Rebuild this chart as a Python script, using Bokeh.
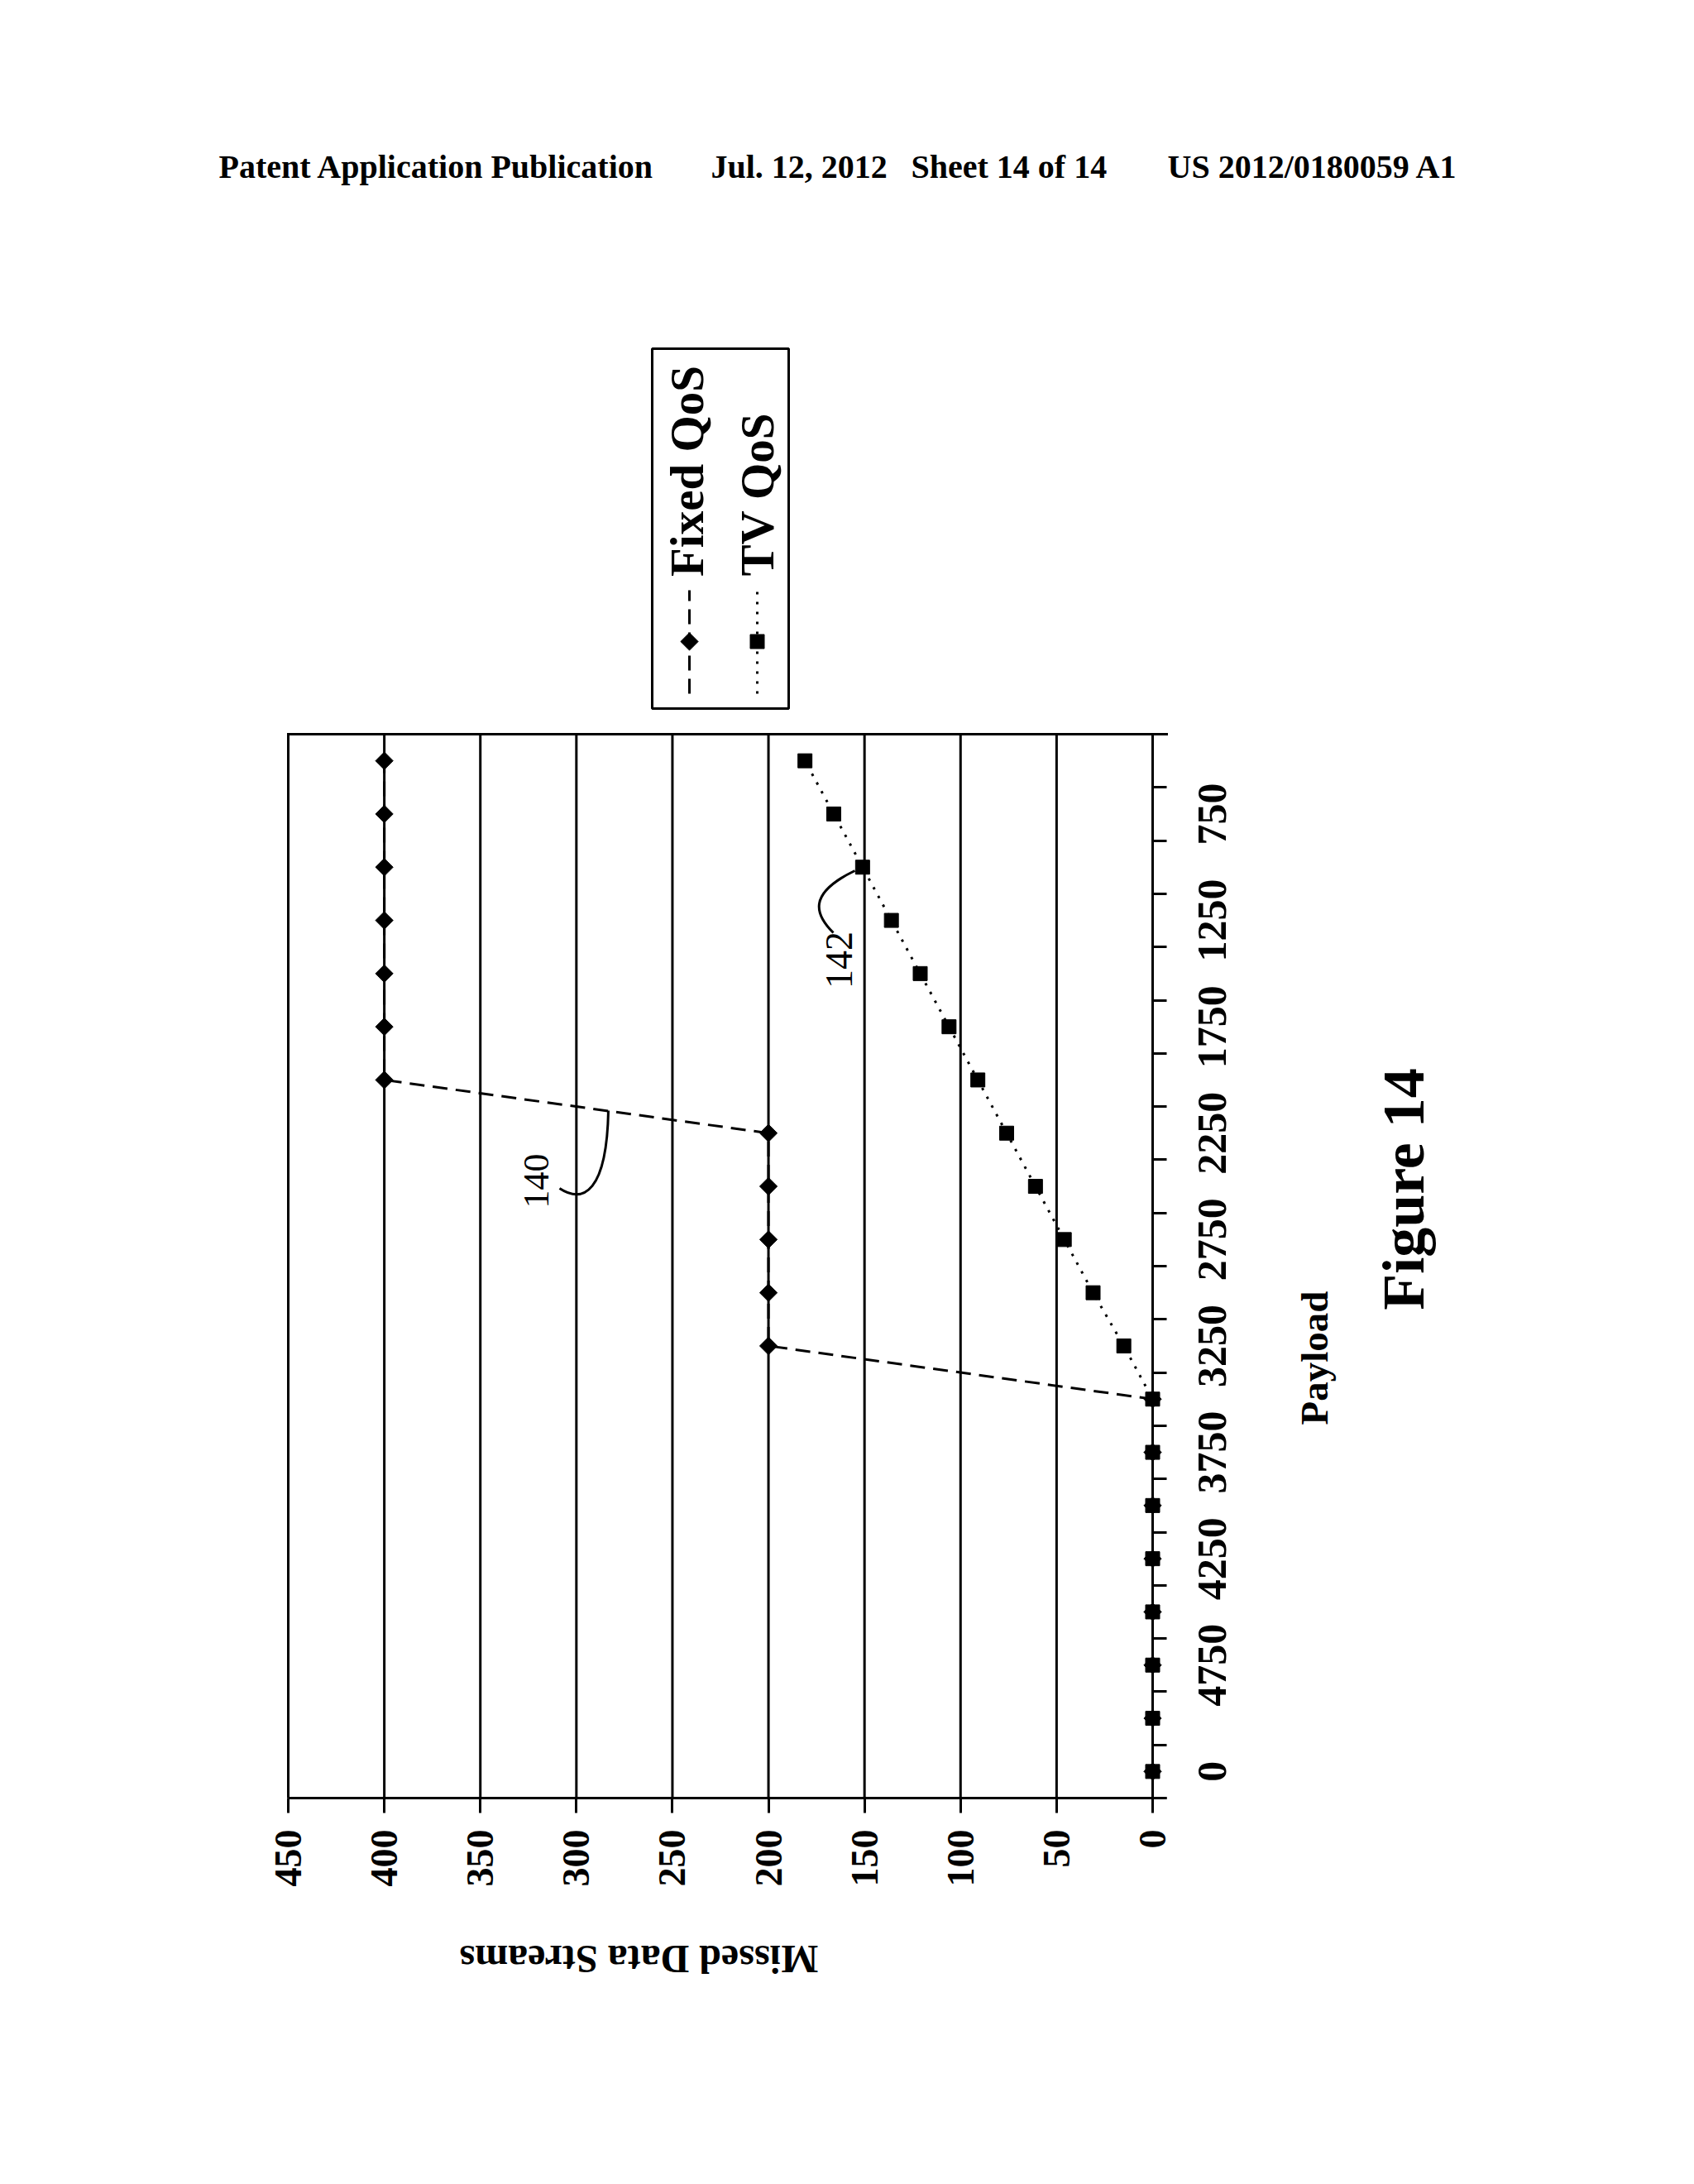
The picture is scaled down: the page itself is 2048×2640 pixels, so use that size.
import math
from bokeh.plotting import figure
from bokeh.models import Range1d, FixedTicker, Label, ColumnDataSource
from bokeh.embed import file_html
from bokeh.resources import INLINE

# ---------------- data ----------------
payload_categories = ["0", "5000", "4750", "4500", "4250", "4000", "3750", "3500", "3250", "3000",
                      "2750", "2500", "2250", "2000", "1750", "1500", "1250", "1000", "750", "500"]
fixed_qos = [0, 0, 0, 0, 0, 0, 0, 0, 200, 200, 200, 200, 200, 400, 400, 400, 400, 400, 400, 400]
tv_qos = [0, 0, 0, 0, 0, 0, 0, 0, 15, 31, 46, 61, 76, 91, 106, 121, 136, 151, 166, 181]
missed_ticks = [0, 50, 100, 150, 200, 250, 300, 350, 400, 450]
series_names = ["Fixed QoS", "TV QoS"]
header_texts = ["Patent Application Publication", "Jul. 12, 2012", "Sheet 14 of 14", "US 2012/0180059 A1"]
x_title = "Payload"
y_title = "Missed Data Streams"
figure_title = "Figure 14"
ref_numerals = ["140", "142"]

# ---------------- layout (page pixels) ----------------
W, H = 2040, 2630
CL, CR, CT, CB = 348, 1393, 887, 2173      # chart area: value 450 .. 0, category -0.5 .. 19.5
TICK = 17                                   # category tick length (right side)
V_MAX, V_MIN = 450, 0
N = len(payload_categories)
SX = (CR - CL) / (V_MAX - V_MIN)            # px per value unit
SY = (CB - CT) / N                          # px per category
FONT = "Liberation Serif"
CAT_FONT_PX = 50
DIGIT_EM = 0.5                              # digit advance width in Liberation Serif


def px2x(px):
    return V_MAX - (px - CL) / SX


def px2y(py):
    return (N - 0.5) - (py - CT) / SY


X_EDGE = px2x(CR + TICK)                    # right end of the bottom axis line
p = figure(width=W, height=H,
           x_range=Range1d(px2x(0), px2x(W)), y_range=Range1d(px2y(H), px2y(0)),
           output_backend="svg", toolbar_location=None, y_axis_location="right",
           min_border=0)
p.title.visible = False
p.outline_line_color = None
p.background_fill_color = "white"
p.border_fill_color = "white"
p.xgrid.visible = False
p.ygrid.visible = False

# bottom axis : Missed Data Streams
xa = p.xaxis[0]
xa.fixed_location = -0.5
xa.bounds = (X_EDGE, V_MAX)
xa.ticker = FixedTicker(ticks=missed_ticks)
xa.axis_line_color = "black"
xa.axis_line_width = 3
xa.major_tick_line_color = "black"
xa.major_tick_line_width = 3
xa.major_tick_out = 18
xa.major_tick_in = 0
xa.minor_tick_line_color = None
xa.major_label_orientation = math.pi / 2
xa.major_label_standoff = 20
xa.major_label_text_font = FONT
xa.major_label_text_font_style = "bold"
xa.major_label_text_font_size = "46px"
xa.major_label_text_color = "black"

# right axis : Payload categories (every other category labelled, label centred on its category;
# Bokeh anchors rotated labels at their start, so the invisible major tick is moved by half a label)
label_ticks, label_over = [], {}
for i, lab in enumerate(payload_categories):
    if i % 2 == 0:
        t = i - (len(lab) * DIGIT_EM * CAT_FONT_PX / 2) / SY
        label_ticks.append(t)
        label_over[t] = lab
ya = p.yaxis[0]
ya.fixed_location = X_EDGE
ya.bounds = (-0.5, N - 0.5)
ya.ticker = FixedTicker(ticks=label_ticks, minor_ticks=[i - 0.5 for i in range(N + 1)])
ya.axis_line_color = None
ya.major_tick_line_color = None
ya.major_tick_in = 0
ya.major_tick_out = 0
ya.minor_tick_line_color = "black"
ya.minor_tick_line_width = 3
ya.minor_tick_in = TICK
ya.minor_tick_out = 0
ya.major_label_overrides = label_over
ya.major_label_orientation = math.pi / 2
ya.major_label_standoff = 55
ya.major_label_text_font = FONT
ya.major_label_text_font_style = "bold"
ya.major_label_text_font_size = f"{CAT_FONT_PX}px"
ya.major_label_text_color = "black"

# value grid lines (incl. the 450 border) and top border
gsrc = ColumnDataSource(dict(v=missed_ticks, y0=[-0.5] * len(missed_ticks), y1=[N - 0.5] * len(missed_ticks)))
p.segment(x0="v", y0="y0", x1="v", y1="y1", source=gsrc, line_color="black", line_width=3)
p.segment(x0=[V_MAX], y0=[N - 0.5], x1=[X_EDGE], y1=[N - 0.5], line_color="black", line_width=3,
          line_cap="square")

# series
src = ColumnDataSource(dict(pos=list(range(N)), fixed=fixed_qos, tv=tv_qos))
p.line(x="fixed", y="pos", source=src, line_color="black", line_width=3, line_dash="18 10")
p.scatter(x="fixed", y="pos", source=src, marker="square", angle=math.pi / 4, size=15,
          fill_color="black", line_color="black")
p.line(x="tv", y="pos", source=src, line_color="black", line_width=3, line_dash="3 9")
p.scatter(x="tv", y="pos", source=src, marker="square", size=17, fill_color="black", line_color="black")

# reference-numeral leader curves (page px: start, ctrl0, ctrl1, end)
leaders = [((676, 1436), (705, 1455), (733, 1440), (735, 1342)),
           ((1007, 1127), (985, 1105), (975, 1080), (1033, 1052))]
p.bezier(x0=[px2x(l[0][0]) for l in leaders], y0=[px2y(l[0][1]) for l in leaders],
         cx0=[px2x(l[1][0]) for l in leaders], cy0=[px2y(l[1][1]) for l in leaders],
         cx1=[px2x(l[2][0]) for l in leaders], cy1=[px2y(l[2][1]) for l in leaders],
         x1=[px2x(l[3][0]) for l in leaders], y1=[px2y(l[3][1]) for l in leaders],
         line_color="black", line_width=3)


def add_text(text, cx, cy, size, angle=math.pi / 2, style="bold", align="center", baseline="middle"):
    p.add_layout(Label(x=px2x(cx), y=px2y(cy), text=text, angle=angle,
                       text_align=align, text_baseline=baseline,
                       text_font=FONT, text_font_style=style, text_font_size=size,
                       text_color="black"))


# header
for txt, hx in zip(header_texts, [264, 859, 1101, 1411]):
    add_text(txt, hx, 201, "40px", angle=0, align="left", baseline="alphabetic")

# titles and reference numerals
add_text(y_title, 772, 2368, "48px", angle=math.pi)
add_text(x_title, 1588, 1641, "47px")
add_text(figure_title, 1696, 1437, "72px")
add_text(ref_numerals[0], 648, 1427, "44px", style="normal")
add_text(ref_numerals[1], 1014, 1160, "46px", style="normal")

# legend (drawn rotated, like the rest of the sheet)
bx0, bx1, by0, by1 = 788, 953, 421, 856
p.quad(left=[px2x(bx0)], right=[px2x(bx1)], top=[px2y(by0)], bottom=[px2y(by1)],
       fill_color=None, line_color="black", line_width=3)
add_text(series_names[0], 830, 569, "57px")
add_text(series_names[1], 915, 597, "57px")
for lx, dash in [(833, "18 10"), (915, "3 9")]:
    p.line(x=[px2x(lx), px2x(lx)], y=[px2y(838), px2y(713)], line_color="black", line_width=3,
           line_dash=dash)
p.scatter(x=[px2x(833)], y=[px2y(775)], marker="square", angle=math.pi / 4, size=15,
          fill_color="black", line_color="black")
p.scatter(x=[px2x(915)], y=[px2y(775)], marker="square", size=17, fill_color="black", line_color="black")

open("out.html", "w").write(file_html(p, INLINE, title="Figure 14"))
